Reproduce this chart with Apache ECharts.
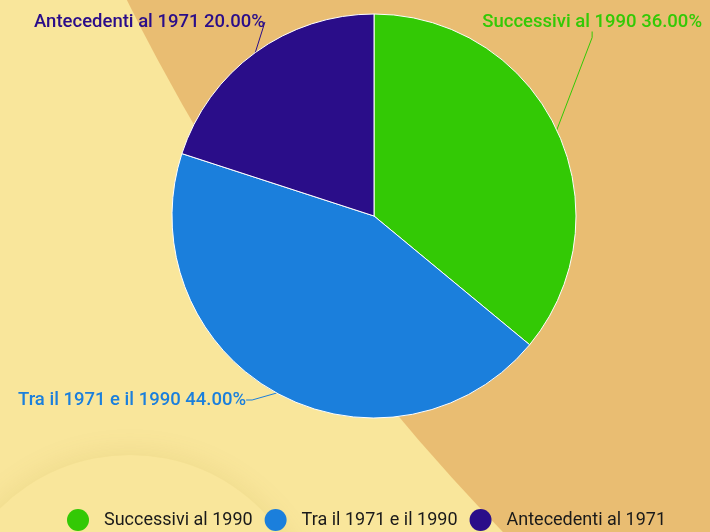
<!DOCTYPE html>
<html>
<head>
<meta charset="utf-8">
<script src="https://cdn.jsdelivr.net/npm/echarts@6/dist/echarts.min.js"></script>
<style>html,body{margin:0;padding:0;}#c{width:710px;height:532px;}</style>
</head>
<body>
<div id="c"></div>
<script>
var categories = ['Successivi al 1990', 'Tra il 1971 e il 1990', 'Antecedenti al 1971'];
var values = [36, 44, 20];
var colors = ['#33c905', '#1b7fdc', '#2a0d89'];

var labelSpots = [
  {x: 702, y: 22, align: 'right'},
  {x: 34, y: 22, align: 'left'},
  {x: 18, y: 400, align: 'left'}
];
var spotByIndex = [0, 2, 1];

var chart = echarts.init(document.getElementById('c'), null, {renderer: 'canvas'});
chart.setOption({
  backgroundColor: '#f9e69b',
  textStyle: {fontFamily: 'Roboto'},
  graphic: [
    {type: 'circle', z: -10, silent: true, shape: {cx: 130, cy: 640, r: 185},
     style: {fill: '#f9e69b', shadowBlur: 30, shadowColor: 'rgba(150,120,0,0.12)'}},
    {type: 'circle', z: -9, silent: true, shape: {cx: 2004, cy: -928, r: 2094},
     style: {fill: '#e9bd72'}}
  ],
  legend: {
    bottom: -4,
    left: 62,
    icon: 'circle',
    itemWidth: 22,
    itemHeight: 22,
    itemGap: 12,
    itemStyle: {borderWidth: 0},
    textStyle: {fontSize: 18, color: '#1a1a1a', fontFamily: 'Roboto', padding: [0, 0, 0, 10]},
    data: categories
  },
  series: [{
    type: 'pie',
    center: [374, 216],
    radius: 202,
    startAngle: 90,
    clockwise: true,
    itemStyle: {borderColor: '#ffffff', borderWidth: 1},
    label: {
      show: true,
      fontSize: 18.5,
      fontWeight: 500,
      fontFamily: 'Roboto',
      overflow: 'none',
      formatter: function (p) { return p.name + ' ' + p.value.toFixed(2) + '%'; }
    },
    labelLine: {show: true, length: 6, length2: 6},
    labelLayout: function (p) {
      var s = labelSpots[spotByIndex[p.dataIndex]];
      return {x: s.x, y: s.y, align: s.align, verticalAlign: 'middle', width: 260};
    },
    data: categories.map(function (n, i) {
      return {name: n, value: values[i], itemStyle: {color: colors[i]},
              label: {color: colors[i]}, labelLine: {lineStyle: {color: colors[i]}}};
    })
  }]
});
</script>
</body>
</html>
